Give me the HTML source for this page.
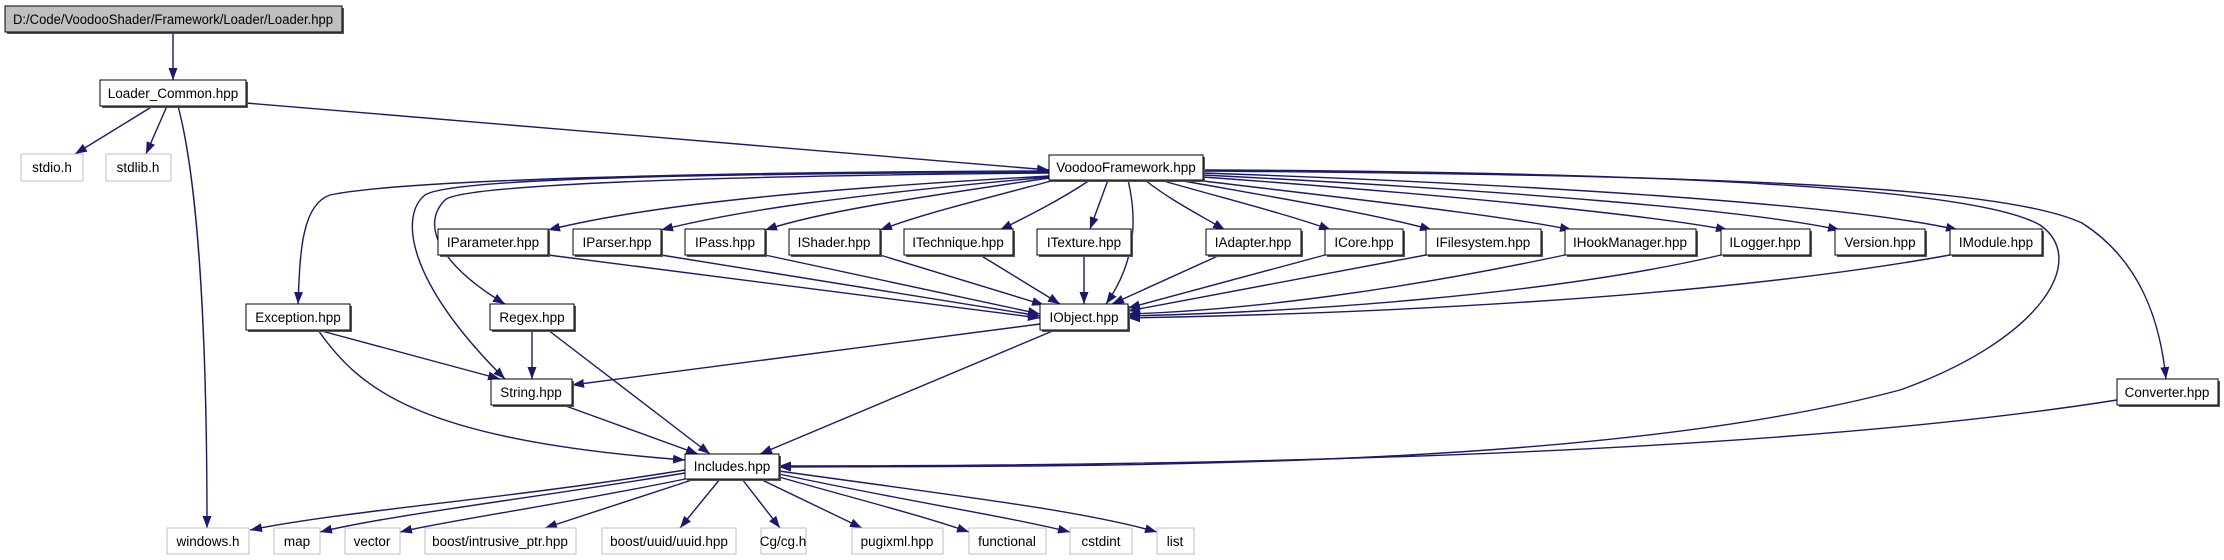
<!DOCTYPE html>
<html><head><meta charset="utf-8"><style>
html,body{margin:0;padding:0;background:#fff;width:2224px;height:560px;overflow:hidden}
svg text{font-family:"Liberation Sans",Arial,sans-serif;font-size:13.5px;fill:#000}
</style></head><body>
<svg width="2224" height="560" viewBox="0 0 2224 560" xmlns="http://www.w3.org/2000/svg">
<defs>
<marker id="a" viewBox="0 0 12 10" refX="12" refY="5" markerWidth="12" markerHeight="10" markerUnits="userSpaceOnUse" orient="auto">
<path d="M0,0.5 L12,5 L0,9.5 z" fill="#191970"/></marker>
</defs>
<g fill="none" stroke="#191970" stroke-width="1.4" marker-end="url(#a)">
<path d="M173,32 L173,80"/>
<path d="M153,106 L75,154"/>
<path d="M167,106 L146,154"/>
<path d="M178,106 C195,170 207,300 207,528"/>
<path d="M246,103 L1049,170"/>
<path d="M1049,176 C800,190 650,205 548,230"/>
<path d="M1049,177 C850,195 740,210 661,230"/>
<path d="M1049,178 C900,200 820,212 765,230"/>
<path d="M1055,180 C960,205 920,215 880,230"/>
<path d="M1090,180 C1060,200 1030,215 1000,230"/>
<path d="M1108,180 L1090,229"/>
<path d="M1128,180 C1140,230 1130,270 1106,304"/>
<path d="M1145,180 C1170,200 1200,215 1225,230"/>
<path d="M1160,180 C1230,200 1290,215 1331,230"/>
<path d="M1178,180 C1290,200 1380,215 1432,230"/>
<path d="M1195,180 C1360,200 1500,215 1572,230"/>
<path d="M1203,177 C1450,195 1650,215 1728,230"/>
<path d="M1203,175 C1500,190 1750,210 1840,230"/>
<path d="M1203,173 C1550,185 1850,205 1958,230"/>
<path d="M1203,171 C1700,175 2000,185 2082,223 C2140,260 2160,320 2166,379"/>
<path d="M1203,170 C1700,172 1980,190 2040,225 C2090,260 2040,340 1900,390 C1600,470 1100,466 779,467"/>
<path d="M1049,172 C700,174 450,178 425,195 C400,215 405,280 505,379"/>
<path d="M1049,173 C700,176 460,185 445,200 C420,225 440,265 505,304"/>
<path d="M1049,171 C700,172 400,180 330,195 C300,205 300,260 298,304"/>
<path d="M548,255 L1040,318"/>
<path d="M661,255 L1040,316"/>
<path d="M765,255 L1040,314"/>
<path d="M880,255 L1044,305"/>
<path d="M980,255 L1060,304"/>
<path d="M1084,255 L1084,304"/>
<path d="M1220,255 L1112,304"/>
<path d="M1325,255 L1128,308"/>
<path d="M1426,255 L1128,311"/>
<path d="M1565,255 C1400,290 1250,310 1128,314"/>
<path d="M1721,255 C1550,295 1300,312 1128,316"/>
<path d="M1950,255 C1700,300 1350,314 1128,318"/>
<path d="M1040,324 L572,385"/>
<path d="M1055,330 L760,454"/>
<path d="M318,330 L500,379"/>
<path d="M318,330 C360,390 420,440 685,460"/>
<path d="M532,330 L532,379"/>
<path d="M548,330 L710,454"/>
<path d="M563,405 L698,454"/>
<path d="M2117,400 C1800,450 1300,466 779,466"/>
<path d="M685,470 C500,500 350,510 250,530"/>
<path d="M685,473 C520,500 390,515 320,532"/>
<path d="M690,478 C560,505 450,520 400,532"/>
<path d="M695,479 L545,528"/>
<path d="M720,479 L680,528"/>
<path d="M742,479 L780,528"/>
<path d="M760,479 L862,528"/>
<path d="M779,477 C860,500 920,515 969,532"/>
<path d="M779,474 C900,500 1000,515 1070,532"/>
<path d="M779,471 C950,495 1080,510 1157,532"/>
</g>
<g stroke-width="1">
<g fill="#555" stroke="none">
<rect x="7" y="8" width="337" height="26"/>
<rect x="102" y="82" width="146" height="26"/>
<rect x="1051" y="157" width="154" height="25"/>
<rect x="440" y="231" width="110" height="26"/>
<rect x="575" y="231" width="88" height="26"/>
<rect x="687" y="231" width="80" height="26"/>
<rect x="791" y="231" width="91" height="26"/>
<rect x="906" y="231" width="109" height="26"/>
<rect x="1039" y="231" width="94" height="26"/>
<rect x="1208" y="231" width="95" height="26"/>
<rect x="1327" y="231" width="78" height="26"/>
<rect x="1428" y="231" width="115" height="26"/>
<rect x="1567" y="231" width="131" height="26"/>
<rect x="1723" y="231" width="89" height="26"/>
<rect x="1837" y="231" width="90" height="26"/>
<rect x="1952" y="231" width="92" height="26"/>
<rect x="248" y="306" width="104" height="26"/>
<rect x="492" y="306" width="84" height="26"/>
<rect x="1042" y="306" width="88" height="26"/>
<rect x="493" y="381" width="81" height="26"/>
<rect x="2119" y="381" width="101" height="26"/>
<rect x="687" y="456" width="94" height="25"/>
</g>
<rect x="5" y="6" width="337" height="26" fill="#bfbfbf" stroke="#000"/>
<g fill="#fff" stroke="#000">
<rect x="100" y="80" width="146" height="26"/>
<rect x="1049" y="155" width="154" height="25"/>
<rect x="438" y="229" width="110" height="26"/>
<rect x="573" y="229" width="88" height="26"/>
<rect x="685" y="229" width="80" height="26"/>
<rect x="789" y="229" width="91" height="26"/>
<rect x="904" y="229" width="109" height="26"/>
<rect x="1037" y="229" width="94" height="26"/>
<rect x="1206" y="229" width="95" height="26"/>
<rect x="1325" y="229" width="78" height="26"/>
<rect x="1426" y="229" width="115" height="26"/>
<rect x="1565" y="229" width="131" height="26"/>
<rect x="1721" y="229" width="89" height="26"/>
<rect x="1835" y="229" width="90" height="26"/>
<rect x="1950" y="229" width="92" height="26"/>
<rect x="246" y="304" width="104" height="26"/>
<rect x="490" y="304" width="84" height="26"/>
<rect x="1040" y="304" width="88" height="26"/>
<rect x="491" y="379" width="81" height="26"/>
<rect x="2117" y="379" width="101" height="26"/>
<rect x="685" y="454" width="94" height="25"/>
</g>
<g fill="#fff" stroke="#bfbfbf">
<rect x="21" y="154" width="62" height="27"/>
<rect x="106" y="154" width="65" height="27"/>
<rect x="167" y="528" width="82" height="26"/>
<rect x="274" y="528" width="46" height="26"/>
<rect x="345" y="528" width="55" height="26"/>
<rect x="425" y="528" width="151" height="26"/>
<rect x="602" y="528" width="134" height="26"/>
<rect x="761" y="528" width="45" height="26"/>
<rect x="852" y="528" width="91" height="26"/>
<rect x="969" y="528" width="77" height="26"/>
<rect x="1070" y="528" width="62" height="26"/>
<rect x="1157" y="528" width="37" height="26"/>
</g>
</g>
<g text-anchor="middle">
<text x="173" y="24" textLength="320" lengthAdjust="spacingAndGlyphs">D:/Code/VoodooShader/Framework/Loader/Loader.hpp</text>
<text x="173" y="98">Loader_Common.hpp</text>
<text x="52" y="172">stdio.h</text>
<text x="138" y="172">stdlib.h</text>
<text x="1126" y="172">VoodooFramework.hpp</text>
<text x="493" y="247">IParameter.hpp</text>
<text x="617" y="247">IParser.hpp</text>
<text x="725" y="247">IPass.hpp</text>
<text x="834" y="247">IShader.hpp</text>
<text x="958" y="247">ITechnique.hpp</text>
<text x="1084" y="247">ITexture.hpp</text>
<text x="1253" y="247">IAdapter.hpp</text>
<text x="1364" y="247">ICore.hpp</text>
<text x="1483" y="247">IFilesystem.hpp</text>
<text x="1630" y="247">IHookManager.hpp</text>
<text x="1765" y="247">ILogger.hpp</text>
<text x="1880" y="247">Version.hpp</text>
<text x="1996" y="247">IModule.hpp</text>
<text x="298" y="322">Exception.hpp</text>
<text x="532" y="322">Regex.hpp</text>
<text x="1084" y="322">IObject.hpp</text>
<text x="531" y="397">String.hpp</text>
<text x="2167" y="397">Converter.hpp</text>
<text x="732" y="471">Includes.hpp</text>
<text x="208" y="546">windows.h</text>
<text x="297" y="546">map</text>
<text x="372" y="546">vector</text>
<text x="500" y="546">boost/intrusive_ptr.hpp</text>
<text x="669" y="546">boost/uuid/uuid.hpp</text>
<text x="783" y="546">Cg/cg.h</text>
<text x="897" y="546">pugixml.hpp</text>
<text x="1007" y="546">functional</text>
<text x="1101" y="546">cstdint</text>
<text x="1175" y="546">list</text>
</g>
</svg>
</body></html>
